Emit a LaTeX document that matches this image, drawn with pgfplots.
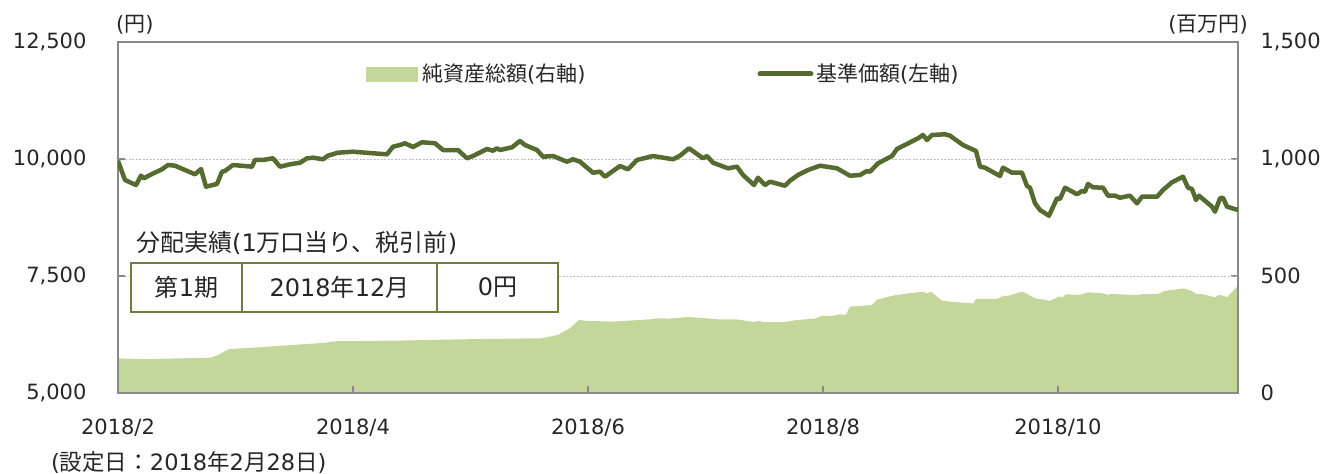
\documentclass[border=0pt]{standalone}
\usepackage{fontspec}
\setmainfont{DejaVu Sans}
\newfontfamily\cjk{Noto Sans CJK JP}
\usepackage{pgfplots}
\pgfplotsset{compat=1.18}
\definecolor{navline}{HTML}{556B2F}
\definecolor{aumfill}{HTML}{C4D79B}
\definecolor{axgray}{HTML}{898989}
\definecolor{gridgray}{HTML}{BFBFBF}
\definecolor{txt}{HTML}{262626}
\definecolor{tblline}{HTML}{6B7F3A}
\newcommand{\fs}{\fontsize{21}{25}\selectfont}
\newcommand{\fn}{\fontsize{22.5}{27}\selectfont}
\newcommand{\fb}{\fontsize{24}{29}\selectfont}
\begin{document}
\begin{tikzpicture}
\pgfplotsset{
  every tick label/.append style={font=\fs, text=txt},
}
% ---------- right axis: net assets (area) ----------
\begin{axis}[
  at={(118pt,81pt)}, anchor=south west,
  scale only axis, width=1120pt, height=351pt,
  xmin=0, xmax=1120, ymin=0, ymax=1500,
  scaled ticks=false,
  axis x line=none,
  axis y line*=right,
  axis line style={axgray, line width=1.5pt},
  ytick={0,500,1000,1500},
  yticklabels={0,500,{1,000},{1,500}},
  tick align=inside, major tick length=7pt,
  every tick/.style={axgray, line width=1.5pt},
  yticklabel style={xshift=19pt},
  clip=true,
]
\addplot[fill=aumfill, draw=none] coordinates {
(0,148)(28,145)(93,151)(100,162)(111,188)(136,194)(208,215)(215,221)(280,224)(352,230)(424,234)(440,248)(452,277)(461,312)(470,308)(496,305)(532,315)(539,319)(552,318)(570,325)(589,319)(600,315)(618,315)(636,303)(640,308)(647,303)(666,303)(679,312)(697,318)(704,330)(715,330)(721,336)(728,335)(732,369)(754,376)(759,399)(778,419)(805,433)(809,426)(813,433)(824,394)(838,388)(855,383)(858,402)(879,402)(886,416)(890,415)(904,433)(908,426)(917,405)(932,394)(941,412)(945,410)(948,422)(961,419)(970,430)(985,426)(990,419)(992,423)(1018,419)(1025,423)(1040,423)(1047,437)(1066,447)(1073,437)(1079,422)(1084,423)(1097,409)(1101,419)(1105,416)(1109,409)(1119,454)(1120,454)
} \closedcycle;
\end{axis}
% ---------- left axis: NAV (line) ----------
\begin{axis}[
  at={(118pt,81pt)}, anchor=south west,
  scale only axis, width=1120pt, height=351pt,
  xmin=0, xmax=1120, ymin=5000, ymax=12500,
  scaled ticks=false,
  axis line style={axgray, line width=1.5pt},
  ytick={5000,7500,10000,12500},
  yticklabels={{5,000},{7,500},{10,000},{12,500}},
  xtick={0,235,470,705,940},
  xticklabels={2018/2,2018/4,2018/6,2018/8,2018/10},
  xtick pos=bottom, ytick pos=left,
  tick align=inside, major tick length=7pt,
  every tick/.style={axgray, line width=1.5pt},
  ymajorgrids,
  grid style={gridgray, line width=1pt, dash pattern=on 2pt off 1.5pt},
  yticklabel style={xshift=-28pt},
  xticklabel style={yshift=-22pt},
]
\addplot[navline, line width=4.5pt, line join=round] coordinates {
(0,9960)(7,9551)(18,9444)(23,9643)(26,9588)(32,9658)(44,9780)(50,9872)(57,9857)(77,9673)(83,9786)(88,9408)(99,9466)(104,9729)(107,9744)(115,9872)(134,9836)(137,9979)(145,9979)(155,10015)(162,9836)(172,9887)(182,9921)(189,10015)(195,10028)(205,9994)(210,10071)(220,10135)(235,10156)(255,10122)(269,10100)(275,10263)(282,10299)(287,10336)(295,10256)(304,10357)(317,10336)(325,10192)(340,10192)(349,10015)(355,10064)(369,10214)(375,10177)(379,10229)(382,10192)(394,10250)(402,10385)(407,10299)(419,10192)(425,10049)(435,10064)(449,9942)(455,9994)(462,9942)(475,9707)(482,9729)(487,9622)(502,9850)(510,9780)(519,9979)(535,10064)(555,9994)(562,10070)(571,10229)(585,10015)(589,10064)(595,9921)(610,9801)(619,9836)(625,9658)(636,9444)(640,9600)(647,9444)(652,9515)(667,9429)(672,9536)(680,9658)(690,9765)(702,9857)(719,9801)(732,9643)(742,9658)(749,9744)(752,9729)(760,9908)(774,10064)(779,10214)(800,10442)(805,10513)(809,10406)(814,10513)(827,10528)(832,10498)(845,10299)(858,10171)(862,9836)(867,9814)(882,9637)(885,9814)(894,9707)(904,9707)(909,9423)(912,9387)(917,9053)(922,8910)(931,8788)(939,9160)(942,9145)(947,9387)(959,9246)(964,9316)(967,9301)(970,9466)(975,9395)(985,9387)(990,9216)(997,9216)(1002,9173)(1012,9216)(1019,9053)(1024,9194)(1039,9194)(1045,9338)(1054,9502)(1065,9622)(1070,9387)(1074,9359)(1078,9124)(1081,9216)(1094,8981)(1097,8874)(1102,9160)(1105,9173)(1109,8981)(1120,8910)
};
\end{axis}
% ---------- annotations ----------
\node[anchor=west, inner sep=0pt, text=txt, font=\fs] at (116pt,449pt) {({\cjk 円})};
\node[anchor=east, inner sep=0pt, text=txt, font=\fs] at (1248pt,449pt) {({\cjk 百万円})};
% legend
\fill[aumfill] (366pt,392pt) rectangle (418pt,407pt);
\node[anchor=west, inner sep=0pt, text=txt, font=\fs] at (422pt,400pt) {{\cjk 純資産総額}({\cjk 右軸})};
\draw[navline, line width=5pt, line cap=round] (760pt,400pt) -- (811pt,400pt);
\node[anchor=west, inner sep=0pt, text=txt, font=\fs] at (816pt,400pt) {{\cjk 基準価額}({\cjk 左軸})};
% distribution table
\node[anchor=west, inner sep=0pt, text=txt, font=\fb] at (136pt,231pt) {{\cjk 分配実績}(1{\cjk 万口当り、税引前})};
\draw[tblline, line width=1.3pt, fill=white] (131pt,162pt) rectangle (558pt,211pt);
\draw[tblline, line width=1.3pt] (242pt,162pt) -- (242pt,211pt);
\draw[tblline, line width=1.3pt] (437pt,162pt) -- (437pt,211pt);
\node[inner sep=0pt, text=txt, font=\fb] at (186.5pt,186.5pt) {{\cjk 第}1{\cjk 期}};
\node[inner sep=0pt, text=txt, font=\fb] at (339.5pt,186.5pt) {2018{\cjk 年}12{\cjk 月}};
\node[inner sep=0pt, text=txt, font=\fb] at (497.5pt,186.5pt) {0{\cjk 円}};
% footnote
\node[anchor=west, inner sep=0pt, text=txt, font=\fn] at (51pt,12pt) {({\cjk 設定日：}2018{\cjk 年}2{\cjk 月}28{\cjk 日})};
\pgfresetboundingbox
\useasboundingbox (0pt,0pt) rectangle (1339pt,474pt);
\end{tikzpicture}
\end{document}
